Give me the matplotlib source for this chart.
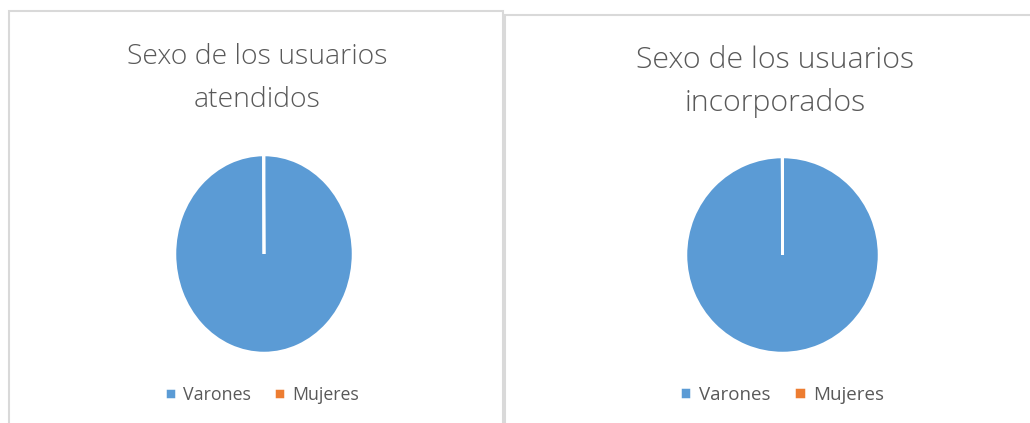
import matplotlib.pyplot as plt
from matplotlib.patches import Rectangle

# Data
labels = ['Varones', 'Mujeres']
atendidos = [1500, 1]
incorporados = [1500, 1]
titles = ['Sexo de los usuarios\natendidos', 'Sexo de los usuarios\nincorporados']
colors = ['#5B9BD5', '#ED7D31']

W, H = 1030, 423
fig = plt.figure(figsize=(W / 100, H / 100), dpi=100)
plt.rcParams['font.family'] = ['Open Sans', 'DejaVu Sans']
txt = '#595959'


def box(x0, y0, x1, y1):
    # pixel coords (top-left origin) -> figure fraction
    return [x0 / W, 1 - y1 / H, (x1 - x0) / W, (y1 - y0) / H]


# panel borders
for x0, y0, x1, y1 in [(9, 11, 503, 430), (505, 15, 1040, 430)]:
    fig.patches.append(Rectangle((x0 / W, 1 - y1 / H), (x1 - x0) / W, (y1 - y0) / H,
                                 transform=fig.transFigure, fill=False,
                                 edgecolor='#D9D9D9', linewidth=1.5))

# values, title, pie box, title x, title line ys, legend x, title size, legend size
panels = [
    (atendidos, titles[0], (175, 155, 353, 353), 257, (57, 100), 262, 20.4, 12.8),
    (incorporados, titles[1], (686, 157, 879, 353), 775, (60, 103), 782, 21.8, 13.5),
]

for vals, title, pbox, tx, ty, lx, tsize, lsize in panels:
    ax = fig.add_axes(box(*pbox))
    wedges, _ = ax.pie(vals, colors=colors, startangle=90, counterclock=False,
                       wedgeprops=dict(edgecolor='white', linewidth=1.8))
    ax.set_aspect('auto')
    ax.set_xlim(-1, 1)
    ax.set_ylim(-1, 1)
    ax.axis('off')
    for line, y in zip(title.split('\n'), ty):
        fig.text(tx / W, 1 - y / H, line, ha='center', va='center',
                 fontsize=tsize, color=txt, fontweight='light')
    fig.legend(wedges, labels, loc='center', bbox_to_anchor=(lx / W, 1 - 395 / H),
               ncol=2, frameon=False, fontsize=lsize, labelcolor=txt,
               handlelength=0.6, handleheight=0.6, handletextpad=0.4,
               columnspacing=1.3)

fig.savefig('out.png', dpi=100)
